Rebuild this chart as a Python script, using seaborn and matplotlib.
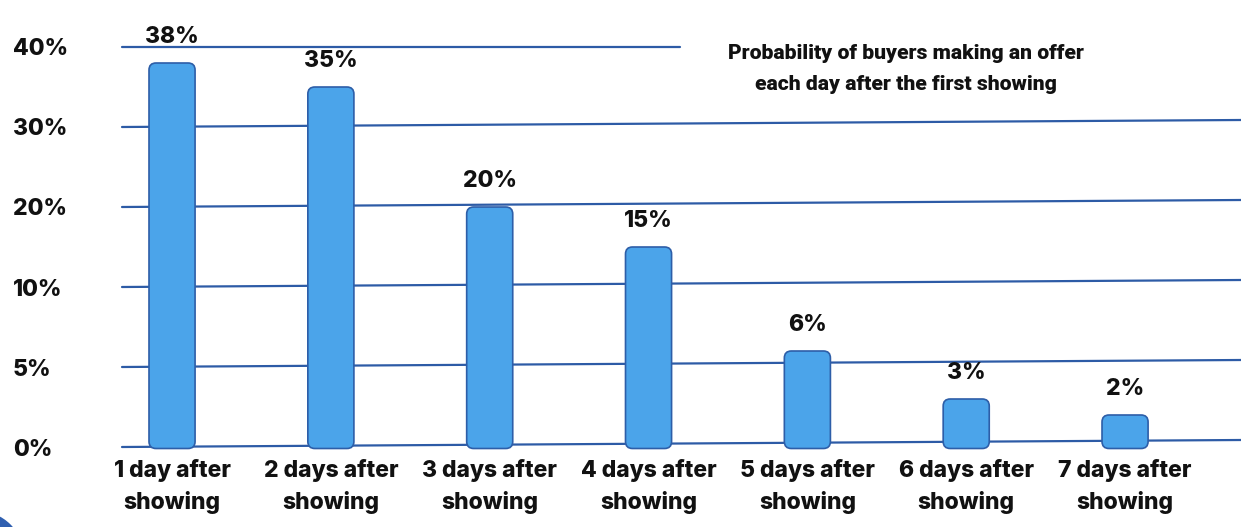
import numpy as np
import pandas as pd
import matplotlib
matplotlib.use("Agg")
import matplotlib.pyplot as plt
from matplotlib.patches import FancyBboxPatch, Circle
from matplotlib.transforms import Affine2D, IdentityTransform
import seaborn as sns

# ---- data ----
categories = [
    "1 day after\nshowing",
    "2 days after\nshowing",
    "3 days after\nshowing",
    "4 days after\nshowing",
    "5 days after\nshowing",
    "6 days after\nshowing",
    "7 days after\nshowing",
]
offer_pct = [38, 35, 20, 15, 6, 3, 2]
tick_values = [0, 5, 10, 20, 30, 40]
tick_labels = ["0%", "5%", "10%", "20%", "30%", "40%"]
title_text = "Probability of buyers making an offer\neach day after the first showing"

# ---- style ----
sns.set_theme(style="white")
plt.rcParams["font.family"] = ["Inter", "Roboto", "DejaVu Sans"]

WEIGHT = "heavy"
FS = 16.5
BAR_FILL = "#4BA4EA"
BAR_EDGE = "#2D5EA8"
GRID = "#2D5BA6"
TEXT = "#111111"

DPI = 100
fig = plt.figure(figsize=(12.41, 5.27), dpi=DPI)
W, H = fig.get_size_inches() * DPI
ax = fig.add_axes([122 / W, 80 / H, 1 - 122 / W, 400 / H])

df = pd.DataFrame({"day": categories, "pct": offer_pct})

# tick levels are evenly spaced on screen, so use a piecewise-linear scale
levels = np.array(tick_values, dtype=float)
slots = np.arange(len(levels), dtype=float)
ax.set_yscale(
    "function",
    functions=(lambda v: np.interp(v, levels, slots),
               lambda p: np.interp(p, slots, levels)),
)

sns.barplot(data=df, x="day", y="pct", color=BAR_FILL, width=0.29,
            saturation=1, ax=ax, zorder=3)

ax.set_xlim(-0.315, len(categories) - 1 + 0.73)
ax.set_ylim(0, 40)
for s in ax.spines.values():
    s.set_visible(False)
ax.set_xlabel("")
ax.set_ylabel("")

# y ticks: left-aligned labels at the far left
ax.set_yticks(tick_values)
ax.set_yticklabels(tick_labels)
ax.tick_params(axis="y", length=0, pad=109 * 72 / DPI, labelsize=FS,
               labelcolor=TEXT)
for lab in ax.get_yticklabels():
    lab.set_horizontalalignment("left")
    lab.set_fontweight(WEIGHT)

ax.tick_params(axis="x", length=0, pad=9, labelsize=FS, labelcolor=TEXT)
for lab in ax.get_xticklabels():
    lab.set_fontweight(WEIGHT)
    lab.set_linespacing(1.5)

# gridlines, gently rising toward the right; the top one stops short of the title
x0 = ax.get_position().x0 * W
tilt = Affine2D().translate(-x0, 0).skew(0, np.arctan(7 / 1119)).translate(x0, 0)
for v in tick_values:
    if v == tick_values[-1]:
        ax.axhline(v, xmin=0, xmax=0.4987, color=GRID, lw=1.6, zorder=1,
                   clip_on=False)
    else:
        ln = ax.axhline(v, color=GRID, lw=1.6, zorder=1, clip_on=False)
        ln.set_transform(ln.get_transform() + tilt)

# replace the square bars with rounded ones, placed in pixel space
fig.canvas.draw()
bars = list(ax.patches)
for bar in bars:
    x, y = bar.get_x(), bar.get_y()
    w, h = bar.get_width(), bar.get_height()
    (px0, py0), (px1, py1) = ax.transData.transform([(x, y), (x + w, y + h)])
    bar.set_visible(False)
    r = min(7, (py1 - py0) / 2 - 0.5)
    fb = FancyBboxPatch((px0, py0 - 1.5), px1 - px0, py1 - py0 + 1.5,
                        boxstyle=f"round,pad=0,rounding_size={r}",
                        facecolor=BAR_FILL, edgecolor=BAR_EDGE, lw=1.2,
                        transform=IdentityTransform(), zorder=3)
    fig.add_artist(fb)

# value labels above each bar
for i, v in enumerate(offer_pct):
    ax.annotate(f"{v}%", (i, v), xytext=(0, 11), textcoords="offset points",
                ha="center", va="bottom", fontsize=FS, fontweight=WEIGHT,
                color=TEXT, annotation_clip=False)

# title block
fig.text(906 / W, 1 - 69 / H, title_text, ha="center", va="center",
         fontsize=15.2, fontweight="black", color=TEXT, linespacing=1.75,
         family=["Roboto", "DejaVu Sans"])

# small accent in the lower-left corner
fig.add_artist(Circle((-22, -30), 46, transform=IdentityTransform(),
                      facecolor="#2F5FB0", edgecolor="none", zorder=0))

fig.savefig("out.png", dpi=DPI)
